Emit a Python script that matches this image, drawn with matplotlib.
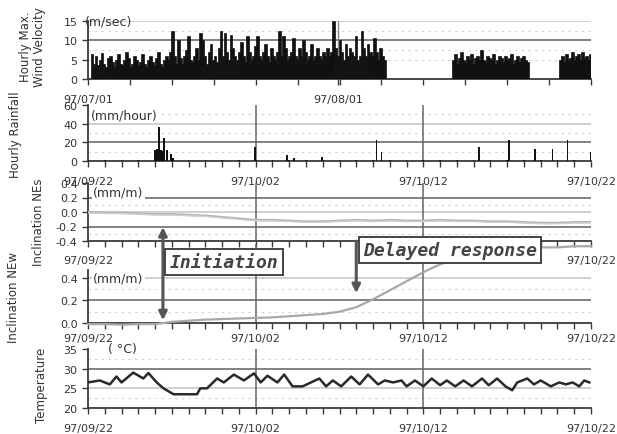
import matplotlib
matplotlib.use("Agg")
import matplotlib.pyplot as plt
import numpy as np

# ---- data ----
# wind: three recorded stretches, 0.25 day steps, day 0 = 97/07/01
wind_start = [0.5, 45.3, 58.6]
wind_seg1 = [6.5, 4, 6, 3.5, 5, 6.8, 4, 3, 5.5, 6, 4.5, 3, 5, 6.5, 4, 3.5, 5, 7, 5.5, 3,
             4, 6, 5, 3.5, 4.5, 6.5, 4, 3, 5, 6, 4.5, 3.5, 5.5, 7, 4, 3, 5, 6,
             5, 7, 12.5, 6, 4, 10, 5.5, 4, 6, 7.5, 11, 5, 4.5, 6, 8, 5, 12, 10, 6, 4,
             7, 9, 5, 6, 4.5, 8, 12.5, 6, 12, 7, 5, 11.5, 8, 6, 5, 7, 9.5, 6, 4.5, 11,
             7, 5, 6, 8.5, 11, 6, 5, 7, 9, 6, 4.5, 8, 6, 5, 7, 12.5, 6, 11, 8, 5,
             6, 7, 10.5, 6, 5, 8, 6, 10, 7, 5, 6, 9, 5, 6, 8, 6, 5, 7, 6, 8,
             6, 7, 15, 8, 6, 10, 7, 5, 9, 6, 8, 7, 6, 11, 5, 6, 12.5, 8, 6, 9,
             7, 6, 10.5, 7, 5, 8, 6, 5]
wind_seg2 = [5, 6.5, 4, 5.5, 7, 5, 4.5, 6, 5, 6.5, 4, 5.5, 6, 5, 7.5, 5, 4.5, 6, 5.5, 5,
             6.5, 4, 5, 6, 5.5, 4.5, 6, 5, 5.5, 6.5, 4, 5, 6, 4.5, 5.5, 6, 5, 4.5]
wind_seg3 = [5, 6, 4.5, 6.5, 5, 5.5, 7, 5, 6, 6.5, 5, 7, 5.5, 6, 5, 6.5]

# day 0 = 97/09/22 for the lower panels
rain_day = [4.0, 4.1, 4.23, 4.35, 4.45, 4.53, 4.7, 4.95, 5.07, 9.95, 11.85, 12.3,
            13.95, 17.2, 17.5, 23.3, 25.1, 26.65, 27.7, 28.6, 30.0]
rain_val = [12, 13, 36, 12, 11, 25, 12, 8, 3, 15, 6, 3, 4, 22, 10, 15, 22, 13, 13, 22, 10]

nes_day = list(range(31))
nes_val = [0.00, -0.01, -0.01, -0.02, -0.03, -0.03, -0.04, -0.05, -0.07, -0.09, -0.11,
           -0.11, -0.12, -0.13, -0.13, -0.12, -0.11, -0.12, -0.11, -0.12, -0.12, -0.11,
           -0.12, -0.12, -0.13, -0.13, -0.14, -0.15, -0.15, -0.14, -0.14]

new_day = [0, 1, 2, 3, 4, 4.5, 5, 6, 7, 8, 9, 10, 11, 12, 13, 14, 15, 16, 17, 18, 19,
           20, 21, 22, 23, 24, 25, 26, 27, 28, 29, 30]
new_val = [-0.01, -0.01, -0.015, -0.01, -0.01, 0.0, 0.01, 0.02, 0.03, 0.035, 0.04, 0.045,
           0.05, 0.06, 0.07, 0.08, 0.10, 0.14, 0.21, 0.29, 0.37, 0.45, 0.52, 0.57, 0.61,
           0.63, 0.65, 0.66, 0.67, 0.67, 0.68, 0.68]

temp_day = [0, 0.7, 1.3, 1.7, 2.0, 2.7, 3.3, 3.6, 4.1, 4.5, 5.1, 6.0, 6.5, 6.7, 7.1, 7.7,
            8.1, 8.7, 9.3, 9.9, 10.3, 10.7, 11.3, 11.7, 12.2, 12.8, 13.8, 14.2, 14.6, 15.1,
            15.7, 16.2, 16.7, 17.3, 17.7, 18.2, 18.7, 19.0, 19.5, 20.0, 20.5, 21.0, 21.4,
            21.9, 22.4, 22.9, 23.5, 23.9, 24.4, 24.9, 25.3, 25.6, 26.2, 26.6, 27.0, 27.6,
            28.1, 28.5, 28.9, 29.3, 29.6, 29.9]
temp_val = [26.5, 27, 26, 28, 26.5, 29, 27.5, 28.9, 26.5, 25, 23.5, 23.5, 23.5, 25, 25, 27.5,
            26.5, 28.5, 27, 28.8, 26.5, 28.2, 26.5, 28.5, 25.5, 25.5, 27.5, 25.5, 27, 25.5,
            28, 26, 28.5, 26, 27, 26.5, 27, 25.5, 27, 25.5, 27.5, 25.8, 27, 25.5, 27, 25.5,
            27.5, 25.8, 27.5, 25.5, 24.5, 26.5, 27.5, 26, 27, 25.5, 26.5, 26, 26.5, 25.5,
            27, 26.5]

wind_ticklabels = {0: "97/07/01", 31: "97/08/01"}
date_ticklabels = {0: "97/09/22", 10: "97/10/02", 20: "97/10/12", 30: "97/10/22"}
# on the NEs panel the middle dates sit under the two label boxes
nes_ticklabels = {0: "97/09/22", 30: "97/10/22"}

W, H = 617, 435
fig = plt.figure(figsize=(W / 100, H / 100), dpi=100, facecolor="white")
ink = "#3a3a3a"


def box(l, t, r, b):
    return [l / W, 1 - b / H, (r - l) / W, (b - t) / H]


def style(ax, xlim, ylim, yticks, ylabels, dark, light, dotted, xlab, minor, pad=7):
    ax.set_xlim(*xlim)
    ax.set_ylim(*ylim)
    for s in ("top", "right"):
        ax.spines[s].set_visible(False)
    for s in ("left", "bottom"):
        ax.spines[s].set_color(ink)
        ax.spines[s].set_linewidth(1.3)
    ax.set_yticks(yticks)
    ax.set_yticklabels(ylabels)
    ax.set_xticks(minor, minor=True)
    ax.set_xticks(list(xlab.keys()))
    ax.set_xticklabels(list(xlab.values()))
    ax.tick_params(axis="both", which="both", colors=ink, labelcolor="#333",
                   labelsize=8, direction="out", length=4, width=1)
    ax.tick_params(axis="x", pad=pad)
    for v in dark:
        ax.axhline(v, color="#777", lw=1.3, zorder=1)
    for v in light:
        ax.axhline(v, color="#c8c8c8", lw=1.2, zorder=1)
    for v in dotted:
        ax.axhline(v, color="#d0d0d0", lw=0.8, ls=(0, (2, 4)), zorder=1)
    ax.patch.set_alpha(0)


days = np.arange(0, 31)

# ---- wind ----
ax1 = fig.add_axes(box(88, 22, 591, 80))
for start, seg in zip(wind_start, [wind_seg1, wind_seg2, wind_seg3]):
    x = start + 0.25 * np.arange(len(seg))
    ax1.bar(x, seg, width=0.34, color="#111", edgecolor="#111", lw=0.5, zorder=3)
style(ax1, (0, 62.4), (0, 15), [0, 5, 10, 15], ["0", "5", "10", "15"],
      [10], [15], [5, 12.5, 7.5], wind_ticklabels, np.linspace(0, 62.4, 13))
ax1.axvline(31, color="#888", lw=1, zorder=2)
ax1.text(-0.4, 15, "(m/sec)", ha="left", va="center", fontsize=9, color="#333")

# ---- rainfall ----
ax2 = fig.add_axes(box(88, 106, 591, 162))
ax2.bar(rain_day, rain_val, width=0.1, color="#111", zorder=3)
ax2.bar(days, [1] * 31, width=0.1, color="#111", zorder=3)
style(ax2, (0, 30), (0, 60), [0, 20, 40, 60], ["0", "20", "40", "60"],
      [20], [40], [10, 30, 50], date_ticklabels, days)
ax2.text(0.2, 49, "(mm/hour)", ha="left", va="center", fontsize=9, color="#333",
         bbox=dict(fc="white", ec="none", pad=1), zorder=4)

# ---- inclination NEs ----
ax3 = fig.add_axes(box(88, 184, 591, 242))
ax3.plot(nes_day, nes_val, color="#b5b5b5", lw=1.6, zorder=3)
ax3.plot(nes_day, np.array(nes_val) - 0.012, color="#cfcfcf", lw=1.0, zorder=3)
style(ax3, (0, 30), (-0.4, 0.4), [-0.4, -0.2, 0.0, 0.2, 0.4],
      ["-0.4", "-0.2", "0.0", "0.2", "0.4"], [0.2, -0.2], [0.0], [0.1, -0.3],
      nes_ticklabels, days, pad=6)
ax3.text(0.3, 0.27, "(mm/m)", ha="left", va="center", fontsize=9, color="#333",
         bbox=dict(fc="white", ec="none", pad=1), zorder=4)

# ---- inclination NEw ----
ax4 = fig.add_axes(box(88, 245, 591, 324))
ax4.plot(new_day, new_val, color="#a8a8a8", lw=1.6, zorder=3, clip_on=False)
style(ax4, (0, 30), (0, 0.7), [0.0, 0.2, 0.4], ["0.0", "0.2", "0.4"],
      [0.2], [0.4], [0.1, 0.3], date_ticklabels, days, pad=3)
ax4.spines["left"].set_bounds(0, 0.47)
ax4.text(0.3, 0.4, "(mm/m)", ha="left", va="center", fontsize=9, color="#333",
         bbox=dict(fc="white", ec="none", pad=1), zorder=4)

# ---- temperature ----
ax5 = fig.add_axes(box(88, 350, 591, 409))
ax5.plot(temp_day, temp_val, color="#2a2a2a", lw=1.8, zorder=3)
style(ax5, (0, 30), (20, 35), [20, 25, 30, 35], ["20", "25", "30", "35"],
      [30], [25], [22.5, 32.5], date_ticklabels, days)
ax5.text(1.2, 35, "( \u00b0C)", ha="left", va="center", fontsize=9, color="#333")

for ax in (ax2, ax3, ax4, ax5):
    for d in (10, 20):
        ax.axvline(d, color="#666", lw=1.1, zorder=2)

# ---- axis titles ----
lab = dict(rotation=90, ha="center", va="center", fontsize=8.5, color="#333")
fig.text(33 / W, 1 - 47 / H, "Hourly Max.\nWind Velocity", linespacing=1.1, **lab)
fig.text(16 / W, 1 - 135 / H, "Hourly Rainfall", **lab)
fig.text(38 / W, 1 - 222 / H, "Inclination NEs", **lab)
fig.text(14 / W, 1 - 298 / H, "Inclination NEw", **lab)
fig.text(42 / W, 1 - 385 / H, "Temperature", **lab)

# ---- annotations ----
arrow = dict(arrowstyle="<|-|>", color="#555", lw=2.2, mutation_scale=12)
ax4.annotate("", xy=(4.47, -0.17), xycoords=ax3.transData,
             xytext=(4.47, 0.0), textcoords=ax4.transData, arrowprops=arrow)
ax4.annotate("", xy=(16.0, 0.24), xycoords="data",
             xytext=(16.0, 0.75), textcoords="data",
             arrowprops=dict(arrowstyle="-|>", color="#555", lw=2.2, mutation_scale=12))

tfont = dict(family="DejaVu Sans Mono", fontweight="bold", style="italic",
             color="#444", ha="center", va="center", zorder=10)
fig.text(224 / W, 1 - 263 / H, "Initiation", fontsize=13,
         bbox=dict(fc="white", ec="#444", lw=1.4, pad=3), **tfont)
fig.text(450 / W, 1 - 251 / H, "Delayed response", fontsize=13,
         bbox=dict(fc="white", ec="#444", lw=1.4, pad=3), **tfont)

fig.savefig("out.png", dpi=100, facecolor="white")
